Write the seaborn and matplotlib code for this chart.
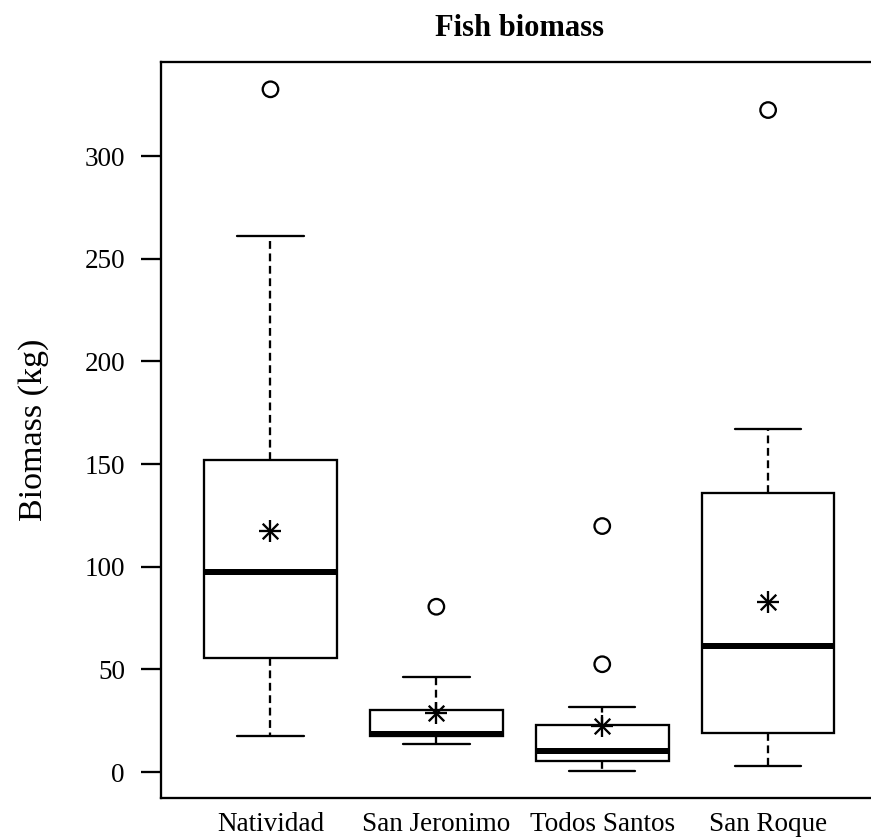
import numpy as np
import pandas as pd
import matplotlib
matplotlib.use("Agg")
import matplotlib.pyplot as plt
import seaborn as sns

# ---- data ----
sites = ["Natividad", "San Jeronimo", "Todos Santos", "San Roque"]
whisker_low = [17.7, 13.5, 0.6, 3.1]
q1 = [55.4, 17.6, 5.4, 19.0]
median = [97.3, 18.7, 10.4, 61.2]
q3 = [151.8, 30.3, 22.7, 135.7]
whisker_high = [260.9, 46.1, 31.5, 167.2]
means = [117.4, 28.6, 22.5, 82.9]
outlier_site = ["Natividad", "San Jeronimo", "Todos Santos", "Todos Santos", "San Roque"]
outlier_value = [332.5, 80.5, 119.8, 52.5, 322.4]
yticks = [0, 50, 100, 150, 200, 250, 300]

sns.set_theme(style="ticks")
plt.rcParams["font.family"] = ["Liberation Serif", "DejaVu Serif"]
plt.rcParams["text.color"] = "black"
plt.rcParams["axes.labelcolor"] = "black"
plt.rcParams["xtick.color"] = "black"
plt.rcParams["ytick.color"] = "black"

DPI = 100
W, H = 871, 839
fig = plt.figure(figsize=(W / DPI, H / DPI), dpi=DPI)
fig.patch.set_facecolor("white")

# axes extends slightly beyond right figure edge (as in the reference crop)
left, right, bottom, top = 161, 877.6, 797.7, 62
ax = fig.add_axes([left / W, 1 - bottom / H, (right - left) / W, (bottom - top) / H])
ax.set_facecolor("white")

pos = {s: i + 1 for i, s in enumerate(sites)}
px = lambda p: p * 72 / DPI  # pixels -> points
LW = px(2.3)

stats = []
for i, s in enumerate(sites):
    stats.append(dict(label=s, whislo=whisker_low[i], q1=q1[i], med=median[i],
                      q3=q3[i], whishi=whisker_high[i], fliers=[]))

ax.bxp(stats, positions=[pos[s] for s in sites], widths=0.8, capwidths=0.4,
       showfliers=False, patch_artist=True,
       boxprops=dict(facecolor="white", edgecolor="black", linewidth=LW),
       medianprops=dict(color="black", linewidth=px(6), solid_capstyle="butt"),
       whiskerprops=dict(color="black", linewidth=LW, linestyle=(0, (3.4, 2.0))),
       capprops=dict(color="black", linewidth=LW))

mean_df = pd.DataFrame({"x": [pos[s] for s in sites], "mean": means})
out_df = pd.DataFrame({"x": [pos[s] for s in outlier_site], "value": outlier_value})

# outliers: open circles
sns.scatterplot(data=out_df, x="x", y="value", ax=ax, marker="o", s=px(15.5) ** 2,
                facecolor="none", edgecolor="black", linewidth=LW, zorder=5)
# means: asterisk (plus + cross)
sns.scatterplot(data=mean_df, x="x", y="mean", ax=ax, marker="+", s=px(22) ** 2,
                color="black", linewidth=LW, zorder=6)
sns.scatterplot(data=mean_df, x="x", y="mean", ax=ax, marker="x", s=(px(22) / 1.414) ** 2,
                color="black", linewidth=LW, zorder=6)

ax.set_xlim(0.34, 4.66)
ax.set_ylim(-12.5, 345.8)
ax.set_xticks([pos[s] for s in sites])
ax.set_xticklabels(sites)
ax.set_yticks(yticks)
ax.set_yticklabels([str(v) for v in yticks])

for sp in ax.spines.values():
    sp.set_visible(True)
    sp.set_color("black")
    sp.set_linewidth(LW)

ax.tick_params(axis="x", length=0, pad=px(14), labelsize=19.5, colors="black")
ax.tick_params(axis="y", length=px(20), width=LW, pad=px(16), labelsize=19.5, colors="black")
ax.set_xlabel("")
ax.set_ylabel("Biomass (kg)", fontsize=24.5, labelpad=px(35), color="black")
ax.set_title("Fish biomass", fontsize=22, fontweight="bold", pad=px(26), color="black")
ax.grid(False)

fig.savefig("out.png", dpi=DPI, facecolor="white")
